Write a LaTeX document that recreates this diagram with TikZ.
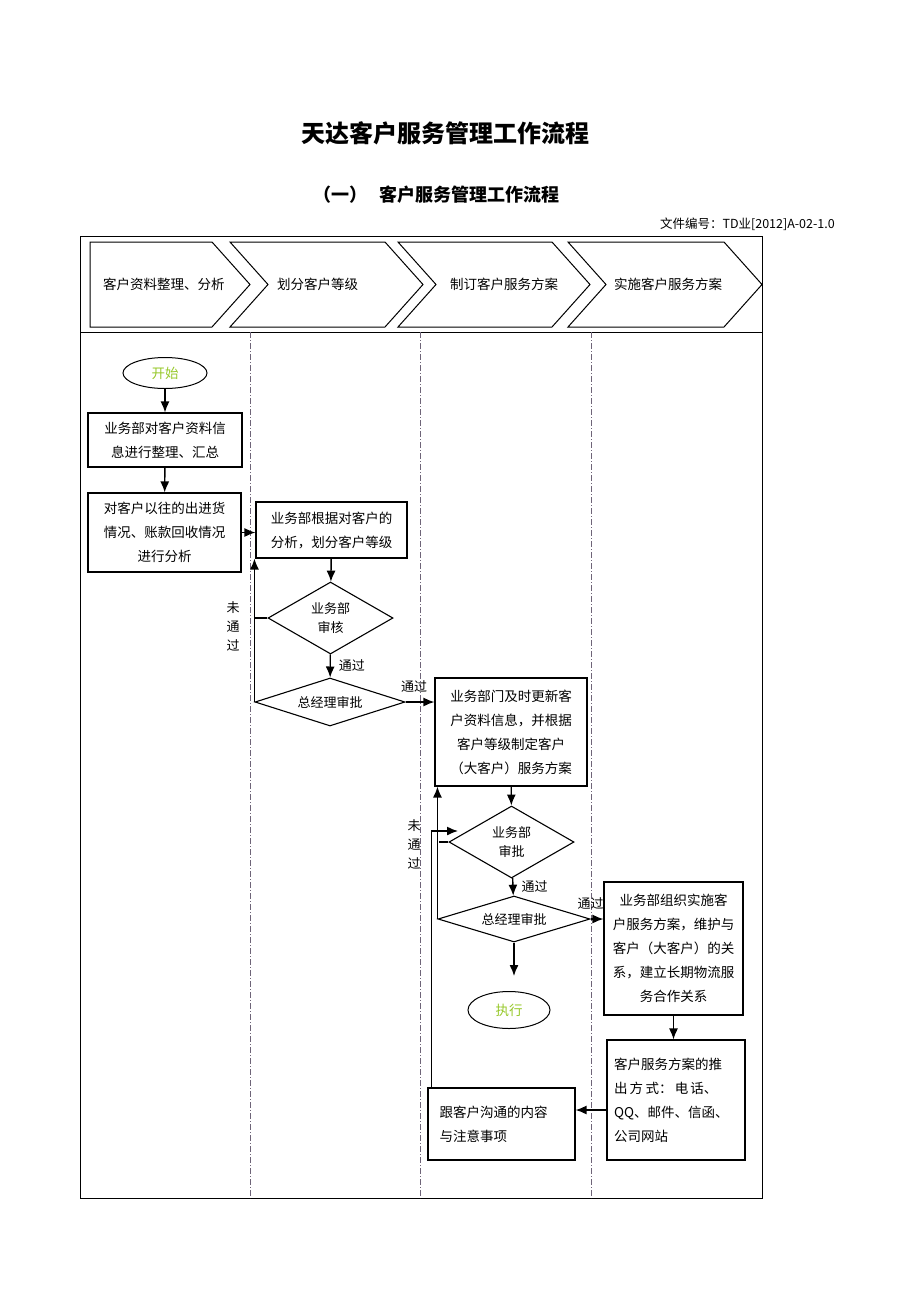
\documentclass[tikz,border=0pt]{standalone}
\usepackage{fontspec}
\newfontfamily\cjk{Noto Sans CJK SC}
\usetikzlibrary{shapes.geometric,arrows.meta}
\definecolor{startgreen}{RGB}{150,200,40}
\definecolor{lanegray}{RGB}{110,100,120}
\begin{document}
\begin{tikzpicture}[x=1pt,y=-1pt,
  txt/.style={font=\cjk\fontsize{13.5}{24}\selectfont, inner sep=0},
  box/.style={draw, line width=1.1pt, align=center, font=\cjk\fontsize{13.5}{24}\selectfont, inner sep=0, anchor=center},
  dia/.style={draw, diamond, line width=1.1pt, inner sep=0, align=center, font=\cjk\fontsize{13}{19}\selectfont},
  oval/.style={draw, ellipse, line width=1pt, inner sep=0, text=startgreen, font=\cjk\fontsize{13.5}{16}\selectfont},
  arr/.style={line width=1.4pt, -{Latex[length=11pt,width=9pt]}},
  ln/.style={line width=1.4pt},
  lane/.style={draw=lanegray, line width=0.8pt, dash pattern=on 6pt off 2pt on 1pt off 2pt},
  chev/.style={draw, line width=1pt, line join=miter},
  lbl/.style={font=\cjk\fontsize{13}{19}\selectfont, inner sep=0, align=center}]
\useasboundingbox (0,0) rectangle (920,1302);
\fill[white] (0,0) rectangle (920,1302);

% titles
\node[inner sep=0, font=\cjk\bfseries\fontsize{24}{28}\selectfont] (title) at (445,133) {天达客户服务管理工作流程};
\node[inner sep=0, font=\cjk\bfseries\fontsize{18}{22}\selectfont, anchor=west] (sub1) at (313,195) {（一）};
\node[inner sep=0, font=\cjk\bfseries\fontsize{18}{22}\selectfont, anchor=west] (sub2) at (379,195) {客户服务管理工作流程};
\node[inner sep=0, font=\cjk\fontsize{12.5}{15}\selectfont, anchor=east] (docno) at (835,224) {文件编号：TD业[2012]A-02-1.0};

% frame
\draw[line width=0.9pt] (80,236) rectangle (762,1198);
\draw[line width=0.9pt] (80,332) -- (762,332);

% chevrons
\draw[chev] (90,242) -- (212,242) -- (250,284.5) -- (212,327) -- (90,327) -- cycle;
\draw[chev] (230,242) -- (385,242) -- (423,284.5) -- (385,327) -- (230,327) -- (268,284.5) -- cycle;
\draw[chev] (398,242) -- (552,242) -- (590,284.5) -- (552,327) -- (398,327) -- (436,284.5) -- cycle;
\draw[chev] (568,242) -- (724,242) -- (762,284.5) -- (724,327) -- (568,327) -- (606,284.5) -- cycle;
\node[txt, anchor=west] (h1) at (103,284) {客户资料整理、分析};
\node[txt, anchor=west] (h2) at (277,284) {划分客户等级};
\node[txt, anchor=west] (h3) at (450,284) {制订客户服务方案};
\node[txt, anchor=west] (h4) at (614,284) {实施客户服务方案};

% lanes
\draw[lane] (250,332) -- (250,1198);
\draw[lane] (420,332) -- (420,1198);
\draw[lane] (591,332) -- (591,1198);

% nodes
\node[oval, minimum width=84, minimum height=31] (start) at (165,373) {开始};
\node[box, minimum width=154, minimum height=54] (A) at (165,440) {业务部对客户资料信\\息进行整理、汇总};
\node[box, minimum width=153, minimum height=79] (B) at (164.5,532.5) {对客户以往的出进货\\情况、账款回收情况\\进行分析};
\node[box, minimum width=151, minimum height=56] (C) at (331.5,530) {业务部根据对客户的\\分析，划分客户等级};
\node[dia, aspect=1.74, minimum width=125, minimum height=72] (D1) at (330.5,618) {业务部\\审核};
\node[dia, aspect=3.12, minimum width=150, minimum height=48] (D2) at (330,702) {总经理审批};
\node[box, minimum width=152, minimum height=108] (E) at (511,732) {业务部门及时更新客\\户资料信息，并根据\\客户等级制定客户\\（大客户）服务方案};
\node[dia, aspect=1.74, minimum width=125, minimum height=72] (D3) at (511.5,842) {业务部\\审批};
\node[dia, aspect=3.3, minimum width=152, minimum height=46] (D4) at (514,919) {总经理审批};
\node[oval, minimum width=82, minimum height=37] (exec) at (509,1010) {执行};
\node[box, minimum width=139, minimum height=133] (F) at (673.5,948.5) {业务部组织实施客\\户服务方案，维护与\\客户（大客户）的关\\系，建立长期物流服\\务合作关系};
\node[box, minimum width=138, minimum height=120, text width=124, align=left] (G) at (676,1100) {客户服务方案的推\\出\,方\,式：\,电\,话、\\QQ、邮件、信函、\\公司网站};
\node[box, minimum width=147, minimum height=72, text width=124, align=left] (H) at (501.5,1124) {跟客户沟通的内容\\与注意事项};

% labels
\node[lbl] (n1) at (233,626) {未\\通\\过};
\node[lbl] (n2) at (414,844) {未\\通\\过};

% connectors
\draw[arr] (start) -- (A);
\draw[arr] (A) -- (B);
\draw[arr] (B.east) -- (B.east -| C.west);
\draw[arr] (C) -- (D1);
\draw[arr] (D1) -- (D2) node[lbl, midway, right=8pt] (p1) {通过};
\draw[ln] (D1.west) -- (D1.west -| D2.west);
\draw[arr] (D2.west) -- (D2.west |- C.south);
\draw[arr] (D2.east) -- (D2.east -| E.west) node[lbl, pos=0.3, above=9pt] (p2) {通过};
\draw[arr] (E) -- (D3);
\draw[arr] (D3) -- (D4) node[lbl, midway, right=8pt] (p3) {通过};
\draw[arr] (D4.west) -- (D4.west |- E.south);
\coordinate (fb) at (458,831);
\draw[arr] ([xshift=4pt]H.north west) |- (fb);
\draw[ln] (D3.west) -- ++(-9,0);
\coordinate (ex) at (514,976);
\draw[arr] (D4.south) -- (ex);
\draw[arr] (D4.east) -- (D4.east -| F.west) node[lbl, pos=0.0, above=9pt, anchor=south] (p4) {通过};
\draw[arr] (F.south) -- (F.south |- G.north);
\draw[arr] ([yshift=-10pt]G.west) -- ([yshift=-10pt]G.west -| H.east);
\end{tikzpicture}
\end{document}
